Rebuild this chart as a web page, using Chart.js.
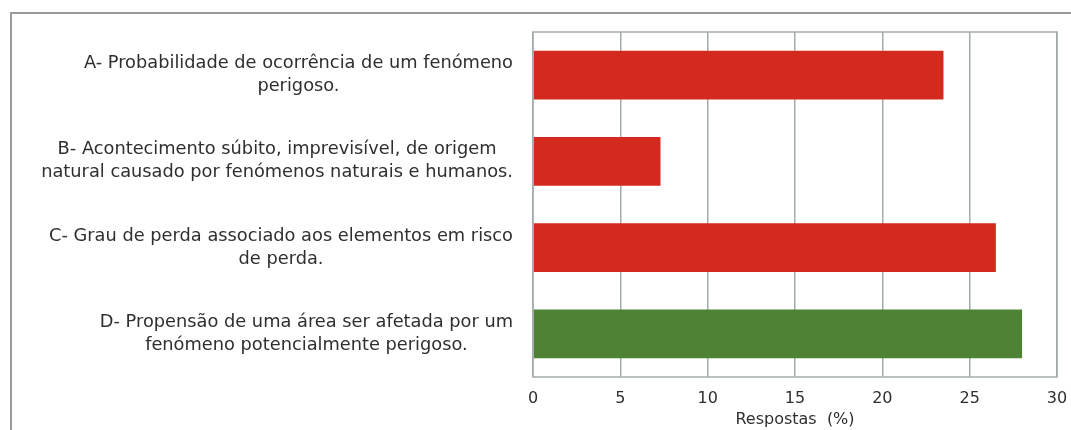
<!DOCTYPE html>
<html>
<head>
<meta charset="utf-8">
<script src="https://cdn.jsdelivr.net/npm/chart.js@4"></script>
<style>
  html, body { margin: 0; padding: 0; background: #fff; }
  #wrap { position: relative; width: 1071px; height: 430px; }
  #frame { position: absolute; left: 10px; top: 12px; right: 0; bottom: 0;
           border-top: 2px solid #9a9a9a; border-left: 2px solid #9a9a9a; }
  canvas { position: absolute; left: 0; top: 0; }
</style>
</head>
<body>
<div id="wrap">
  <div id="frame"></div>
  <canvas id="riskChart" width="1071" height="430"></canvas>
</div>
<script>
// chart data
const categories = [
    ['A- Probabilidade de ocorrência de um fenómeno', 'perigoso.'],
    ['B- Acontecimento súbito, imprevisível, de origem', 'natural causado por fenómenos naturais e humanos.'],
    ['C- Grau de perda associado aos elementos em risco', 'de perda.'],
    ['D- Propensão de uma área ser afetada por um', 'fenómeno potencialmente perigoso.']
];
const respostas = [23.5, 7.3, 26.5, 28.0];
const barColors = ['#d42a1e', '#d42a1e', '#d42a1e', '#4e8235'];
const xTicks = [0, 5, 10, 15, 20, 25, 30];

const textColor = '#2f2f2f';
const fontFamily = '"DejaVu Sans", Verdana, sans-serif';

// draws the multi-line category labels: lines centred on each other, block right-aligned
const categoryLabels = {
    id: 'categoryLabels',
    afterDraw(chart) {
        const ctx = chart.ctx;
        const yScale = chart.scales.y;
        const right = chart.chartArea.left - 20;
        const lineHeight = 23;
        ctx.save();
        ctx.font = '17.8px ' + fontFamily;
        ctx.fillStyle = textColor;
        ctx.textAlign = 'center';
        ctx.textBaseline = 'middle';
        categories.forEach(function (lines, i) {
            const y = yScale.getPixelForTick(i);
            const w = Math.max.apply(null, lines.map(l => ctx.measureText(l).width));
            const cx = right - w / 2;
            const y0 = y - (lines.length - 1) * lineHeight / 2;
            lines.forEach(function (l, j) {
                ctx.fillText(l, cx, y0 + j * lineHeight);
            });
        });
        ctx.restore();
    }
};

// thin box round the plot area
const plotBox = {
    id: 'plotBox',
    afterDatasetsDraw(chart) {
        const a = chart.chartArea;
        const ctx = chart.ctx;
        ctx.save();
        ctx.strokeStyle = '#a4acab';
        ctx.lineWidth = 1.5;
        ctx.strokeRect(a.left, a.top, a.right - a.left, a.bottom - a.top);
        ctx.restore();
    }
};

const ctx = document.getElementById('riskChart').getContext('2d');
const riskChart = new Chart(ctx, {
    type: 'bar',
    data: {
        labels: categories,
        datasets: [{
            label: 'Respostas (%)',
            data: respostas,
            backgroundColor: barColors,
            borderWidth: 0,
            categoryPercentage: 1.0,
            barPercentage: 0.565
        }]
    },
    options: {
        indexAxis: 'y',
        responsive: false,
        animation: false,
        layout: { padding: { top: 32, right: 14, left: 0, bottom: 0 } },
        plugins: {
            legend: { display: false },
            tooltip: { enabled: false }
        },
        scales: {
            x: {
                min: 0,
                max: 30,
                afterBuildTicks: function (scale) {
                    scale.ticks = xTicks.map(v => ({ value: v }));
                },
                afterFit: function (scale) {
                    scale.height = 53;
                    scale.paddingRight = 0;
                    scale.paddingLeft = 0;
                },
                grid: {
                    color: '#a4acab',
                    lineWidth: 1.5,
                    drawTicks: false
                },
                border: { display: false },
                ticks: {
                    color: textColor,
                    padding: 12,
                    font: { family: fontFamily, size: 16 }
                },
                title: {
                    display: true,
                    text: 'Respostas  (%)',
                    color: textColor,
                    padding: { top: 0, bottom: 1 },
                    font: { family: fontFamily, size: 16 }
                }
            },
            y: {
                afterFit: function (scale) { scale.width = 533; },
                grid: { display: false },
                border: { display: false },
                ticks: { display: false }
            }
        }
    },
    plugins: [categoryLabels, plotBox]
});
</script>
</body>
</html>
